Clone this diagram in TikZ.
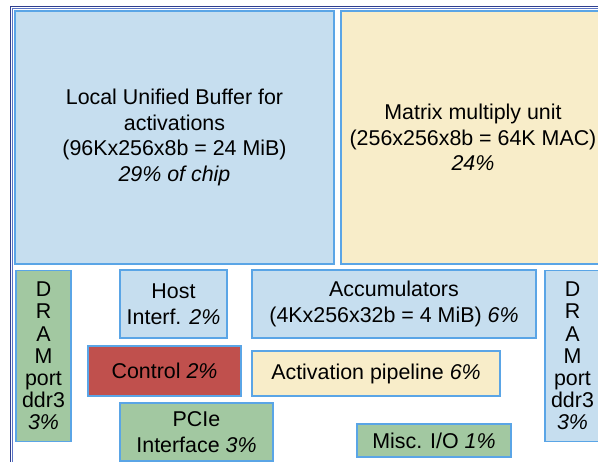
\documentclass[tikz,border=0pt]{standalone}
\usepackage{fontspec}
\setmainfont{Liberation Sans}
\usepackage{xcolor}
\definecolor{blockline}{HTML}{5AA5E6}
\definecolor{bufblue}{HTML}{C6DEEF}
\definecolor{mxuyellow}{HTML}{F8EDC9}
\definecolor{iogreen}{HTML}{A2C8A1}
\definecolor{ctrlred}{HTML}{C0504D}
\definecolor{chipnavy}{HTML}{2F3F8E}
\definecolor{chipblue}{HTML}{5B74C6}
\tikzset{
  unitbox/.style={draw=blockline,line width=1.3pt,align=center,inner sep=0pt,
    font=\fontsize{21.4}{25.6}\selectfont,text=black},
  bufbox/.style={unitbox,fill=bufblue},
  mxubox/.style={unitbox,fill=mxuyellow},
  iobox/.style={unitbox,fill=iogreen},
  ctrlbox/.style={unitbox,fill=ctrlred},
  drambox/.style={unitbox,font=\fontsize{21.4}{22.2}\selectfont}
}

\begin{document}
\begin{tikzpicture}[x=1pt,y=-1pt]
\useasboundingbox (0,0) rectangle (598,462);
% chip outline
\draw[chipnavy,line width=1.6pt] (10.5,470) -- (10.5,6.5) -- (610,6.5);
\draw[chipblue,line width=.8pt] (12.8,470) -- (12.8,8.8) -- (610,8.8);

\node[bufbox,minimum width=319pt,minimum height=253pt] (lub) at (174.5,137.5)
  {Local Unified Buffer for\\activations\\(96Kx256x8b = 24 MiB)\\\textit{29\% of chip}};
\node[mxubox,minimum width=264pt,minimum height=253pt] (mmu) at (473,137.5)
  {Matrix multiply unit\\(256x256x8b = 64K MAC)\\\textit{24\%}};

\node[drambox,fill=iogreen,minimum width=55pt,minimum height=171pt] (dramL) at (43.5,356)
  {D\\R\\A\\M\\port\\ddr3\\\textit{3\%}};
\node[drambox,fill=bufblue,minimum width=55pt,minimum height=171pt] (dramR) at (572.5,356)
  {D\\R\\A\\M\\port\\ddr3\\\textit{3\%}};

\node[bufbox,minimum width=107pt,minimum height=68pt] (host) at (173.5,304)
  {Host\\Interf. \textit{2\%}};
\node[bufbox,minimum width=284pt,minimum height=68pt] (acc) at (394,304)
  {Accumulators\\(4Kx256x32b = 4 MiB) \textit{6\%}};

\node[ctrlbox,minimum width=153pt,minimum height=50pt] (ctrl) at (164.5,371)
  {Control \textit{2\%}};
\node[mxubox,minimum width=248pt,minimum height=45pt] (actp) at (376,373.5)
  {Activation pipeline \textit{6\%}};

\node[iobox,minimum width=153pt,minimum height=58pt] (pcie) at (196.5,432)
  {PCIe\\Interface \textit{3\%}};
\node[iobox,minimum width=154pt,minimum height=33pt] (misc) at (434,440.5)
  {Misc. I/O \textit{1\%}};
\end{tikzpicture}
\end{document}
